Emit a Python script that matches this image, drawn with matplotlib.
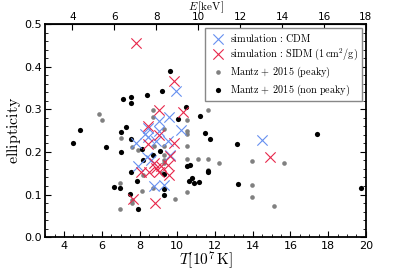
import matplotlib
matplotlib.use("Agg")
import matplotlib.pyplot as plt
from matplotlib.ticker import MultipleLocator, FixedLocator

plt.rcParams["mathtext.fontset"] = "cm"
plt.rcParams["font.family"] = "DejaVu Sans"

# simulated clusters, CDM
cdm_T = [9.93, 9.55, 9.05, 8.44, 8.31, 9.05, 10.2, 8.88, 9.49, 7.80, 8.44,
         8.38, 8.61, 9.63, 7.91, 8.79, 9.32, 14.51]
cdm_e = [0.344, 0.281, 0.272, 0.256, 0.243, 0.25, 0.252, 0.225, 0.225, 0.222,
         0.236, 0.188, 0.18, 0.192, 0.166, 0.119, 0.123, 0.229]

# simulated clusters, SIDM 1 cm^2/g
sidm_T = [7.79, 9.85, 9.05, 10.29, 8.44, 9.05, 9.81, 8.44, 9.63, 14.92, 8.08,
          8.52, 8.88, 9.14, 8.79, 9.49, 9.55, 9.05, 7.64, 8.82]
sidm_e = [0.455, 0.367, 0.299, 0.293, 0.26, 0.24, 0.222, 0.218, 0.19, 0.188,
          0.154, 0.152, 0.162, 0.166, 0.174, 0.17, 0.147, 0.154, 0.09, 0.079]

# Mantz+2015, peaky
peaky_T = [5.83, 6.02, 7.03, 6.99, 6.99, 7.59, 7.58, 7.60, 7.91, 8.15, 8.17,
           8.74, 8.74, 8.74, 9.32, 9.32, 9.32, 9.32, 9.32, 9.21, 9.88, 10.5,
           10.5, 10.5, 10.5, 10.5, 10.5, 11.08, 11.62, 11.62, 11.62, 12.22,
           13.96, 13.96, 13.96, 15.13, 15.67, 8.75]
peaky_e = [0.288, 0.275, 0.232, 0.126, 0.066, 0.212, 0.08, 0.087, 0.205, 0.109,
           0.145, 0.299, 0.282, 0.115, 0.254, 0.213, 0.193, 0.182, 0.174, 0.15,
           0.09, 0.274, 0.248, 0.243, 0.215, 0.184, 0.105, 0.183, 0.299, 0.184,
           0.158, 0.174, 0.179, 0.122, 0.094, 0.072, 0.174, 0.214]

# Mantz+2015, non peaky
nonpeaky_T = [4.48, 4.86, 6.2, 7.12, 7.57, 7.57, 7.29, 7.03, 7.03, 7.54, 8.4,
              9.62, 9.21, 10.46, 10.02, 11.22, 11.48, 11.73, 13.19, 17.4,
              19.74, 13.24, 6.64, 6.99, 7.47, 7.91, 7.54, 7.89, 8.14, 8.17,
              8.72, 9.32, 9.32, 9.32, 9.1, 10.5, 10.67, 10.64, 10.78, 10.87,
              11.18, 11.62, 11.62]
nonpeaky_e = [0.221, 0.252, 0.212, 0.325, 0.328, 0.314, 0.259, 0.246, 0.2,
              0.231, 0.334, 0.391, 0.344, 0.305, 0.278, 0.284, 0.245, 0.23,
              0.218, 0.243, 0.115, 0.124, 0.117, 0.115, 0.102, 0.066, 0.153,
              0.132, 0.207, 0.18, 0.192, 0.149, 0.112, 0.099, 0.201, 0.166,
              0.17, 0.131, 0.139, 0.128, 0.129, 0.156, 0.153]

E_ticks = [4, 6, 8, 10, 12, 14, 16, 18]

fig = plt.figure(figsize=(4.07, 2.71), dpi=100)
ax = fig.add_axes([0.111, 0.125, 0.788, 0.786])

ax.scatter(peaky_T, peaky_e, s=11, c="#808080", lw=0,
           label=r"$\mathrm{Mantz+\ 2015\ (peaky)}$", zorder=2)
ax.scatter(nonpeaky_T, nonpeaky_e, s=14, c="k", lw=0,
           label=r"$\mathrm{Mantz+\ 2015\ (non\ peaky)}$", zorder=2)
ax.scatter(cdm_T, cdm_e, s=55, marker="x", c="#6690f0", lw=0.8,
           label=r"$\mathrm{simulation}\,:\,\mathrm{CDM}$", zorder=3)
ax.scatter(sidm_T, sidm_e, s=55, marker="x", c="#e8274b", lw=0.8,
           label=r"$\mathrm{simulation}\,:\,\mathrm{SIDM}\ (1\,\mathrm{cm^2/g})$",
           zorder=3)

ax.set_xlim(3, 20)
ax.set_ylim(0, 0.5)
ax.xaxis.set_major_locator(MultipleLocator(2))
ax.xaxis.set_minor_locator(MultipleLocator(0.5))
ax.yaxis.set_major_locator(MultipleLocator(0.1))
ax.yaxis.set_minor_locator(MultipleLocator(0.02))
ax.tick_params(which="both", direction="in", right=True, labelsize=8, pad=2.5)
ax.tick_params(which="major", length=4, width=0.8)
ax.tick_params(which="minor", length=2, width=0.6)
for sp in ax.spines.values():
    sp.set_linewidth(1.3)

ax.set_xlabel(r"$T[10^7\,\mathrm{K}]$", fontsize=11, labelpad=-1)
ax.set_ylabel(r"$\mathrm{ellipticity}$", fontsize=11.5, labelpad=1)

top = ax.secondary_xaxis("top", functions=(lambda t: 0.9 * t, lambda e: e / 0.9))
top.xaxis.set_major_locator(FixedLocator(E_ticks))
top.tick_params(direction="in", length=4, width=0.8, labelsize=7.5, pad=1.5)
top.set_xlabel(r"$E\,[\mathrm{keV}]$", fontsize=8, labelpad=1)

h, l = ax.get_legend_handles_labels()
order = [2, 3, 0, 1]
leg = ax.legend([h[i] for i in order], [l[i] for i in order], loc="upper right",
                fontsize=7.3, scatterpoints=1, fancybox=False, framealpha=1,
                borderpad=0.35, handletextpad=0.3, labelspacing=0.25,
                borderaxespad=0.4, handlelength=1.8)
leg.get_frame().set_edgecolor("#888888")

fig.savefig("out.png", dpi=100)
